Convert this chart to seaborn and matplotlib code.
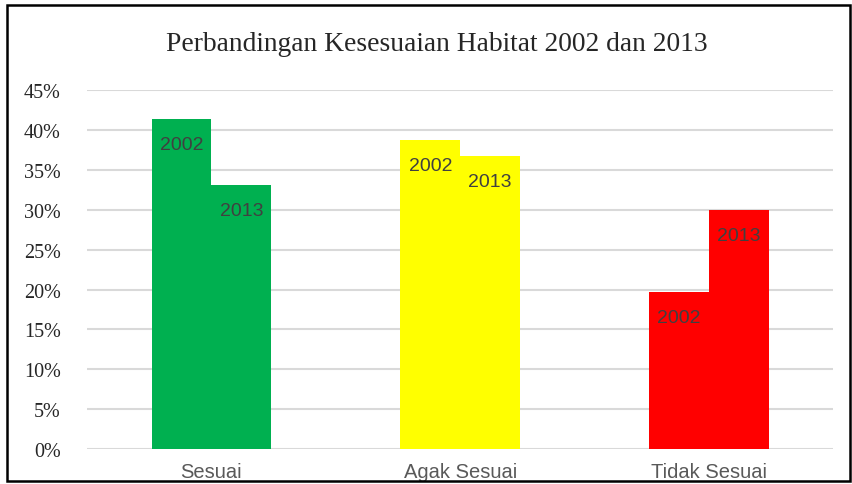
import pandas as pd
import seaborn as sns
import matplotlib.pyplot as plt
from matplotlib.patches import Rectangle
from matplotlib.ticker import FuncFormatter

categories = ['Sesuai', 'Agak Sesuai', 'Tidak Sesuai']
years = ['2002', '2013']
values_2002 = [41.4, 38.8, 19.7]
values_2013 = [33.1, 36.8, 30.0]
colors = ['#00b050', '#ffff00', '#ff0000']

df = pd.DataFrame({
    'kategori': categories * 2,
    'tahun': [years[0]] * 3 + [years[1]] * 3,
    'nilai': values_2002 + values_2013,
})

sns.set_style('white')
fig = plt.figure(figsize=(8.53, 4.85), dpi=100)
ax = fig.add_axes([0.102, 0.072, 0.875, 0.740])

sns.barplot(data=df, x='kategori', y='nilai', hue='tahun', order=categories,
            hue_order=years, width=0.48, saturation=1, ax=ax, legend=False)

# one colour per category, both years
for container, yr in zip(ax.containers, years):
    for i, bar in enumerate(container):
        bar.set_facecolor(colors[i])
        bar.set_edgecolor('none')
        ax.annotate(yr, (bar.get_x() + bar.get_width() / 2, bar.get_height()),
                    xytext=(0, -18.5), textcoords='offset points', ha='center', va='center',
                    fontsize=14, color='#404040', family='Liberation Sans')

ax.set_ylim(0, 45)
ax.set_xlim(-0.5, 2.5)
ax.set_yticks(range(0, 46, 5))
ax.yaxis.set_major_formatter(FuncFormatter(lambda v, p: f'{int(v)}%'))
ax.yaxis.grid(True, color='#d9d9d9', linewidth=1.5)
ax.set_axisbelow(True)
for s in ax.spines.values():
    s.set_visible(False)
ax.set_xlabel('')
ax.set_ylabel('')
ax.tick_params(axis='y', length=0, pad=19, labelsize=14.5)
ax.tick_params(axis='x', length=0, pad=9, labelsize=14.5, labelcolor='#595959')
for t in ax.get_yticklabels():
    t.set_family('Liberation Serif')
for t in ax.get_xticklabels():
    t.set_family('Liberation Sans')

fig.text(0.512, 0.908, 'Perbandingan Kesesuaian Habitat 2002 dan 2013', ha='center', va='center',
         fontsize=19.8, family='Liberation Serif')

fig.patches.append(Rectangle((0.008, 0.006), 0.988, 0.982, transform=fig.transFigure,
                             fill=False, edgecolor='black', linewidth=1.8))

fig.savefig('out.png', dpi=100)
